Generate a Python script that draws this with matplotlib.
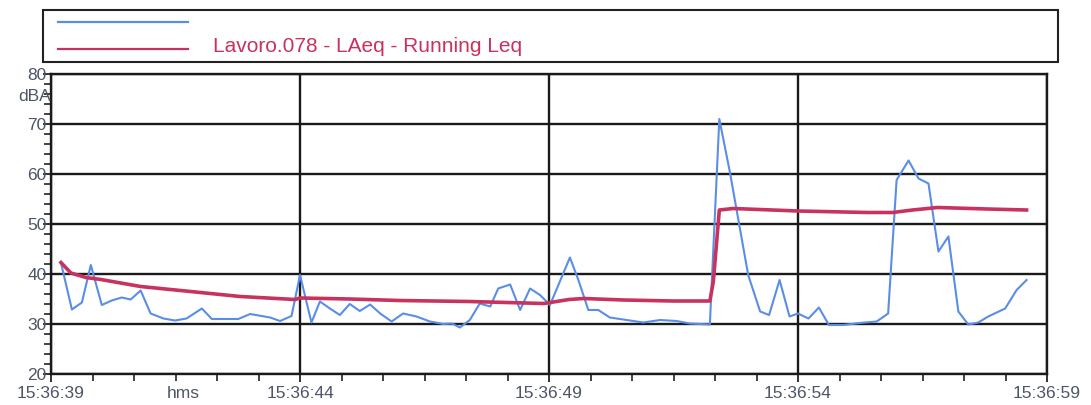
import matplotlib
matplotlib.use("Agg")
import matplotlib.pyplot as plt
from matplotlib.ticker import MultipleLocator, FixedLocator
from matplotlib.lines import Line2D
from matplotlib.patches import Rectangle

# seconds after 15:36:39
t_blue = [0.21, 0.42, 0.62, 0.80, 1.02, 1.22, 1.42, 1.60, 1.80, 2.00, 2.26, 2.49, 2.72,
          3.03, 3.23, 3.49, 3.76, 4.00, 4.40, 4.60, 4.83, 5.00, 5.23, 5.40, 5.60, 5.80,
          6.00, 6.20, 6.41, 6.61, 6.84, 7.07, 7.34, 7.61, 7.88, 8.05, 8.21, 8.41, 8.61,
          8.82, 8.98, 9.22, 9.42, 9.62, 9.82, 10.02, 10.42, 10.59, 10.79, 10.99, 11.22,
          11.56, 11.89, 12.23, 12.56, 12.83, 13.23, 13.42, 13.63, 14.00, 14.24, 14.42,
          14.63, 14.83, 15.00, 15.21, 15.42, 15.62, 15.91, 16.24, 16.58, 16.81, 16.98,
          17.22, 17.42, 17.62, 17.82, 18.02, 18.22, 18.42, 18.62, 18.82, 19.16, 19.39, 19.59]
db_blue = [41.8, 32.9, 34.3, 41.8, 33.8, 34.7, 35.3, 34.9, 36.7, 32.1, 31.1, 30.7, 31.1,
           33.1, 31.0, 31.0, 31.0, 32.0, 31.3, 30.6, 31.6, 39.8, 30.3, 34.5, 33.1, 31.8,
           34.0, 32.6, 33.9, 32.1, 30.5, 32.1, 31.5, 30.5, 30.0, 30.1, 29.3, 30.8, 34.1,
           33.5, 37.1, 37.9, 32.8, 37.1, 35.8, 33.8, 43.3, 38.8, 32.8, 32.8, 31.3,
           30.8, 30.3, 30.8, 30.6, 30.1, 29.9, 71.0, 60.5, 39.8, 32.5, 31.8,
           38.8, 31.5, 32.1, 31.1, 33.3, 29.8, 29.8, 30.2, 30.5, 32.1, 58.8,
           62.7, 59.1, 58.1, 44.5, 47.5, 32.5, 29.9, 30.3, 31.5, 33.1, 36.8, 38.8]

t_red = [0.20, 0.40, 0.70, 1.00, 1.80, 2.80, 3.80, 4.90, 5.00, 6.00, 7.00, 8.40,
         9.90, 10.40, 10.70, 11.50, 12.50, 13.23, 13.30, 13.42, 13.70, 15.00, 16.40,
         16.90, 17.30, 17.80, 18.80, 19.59]
db_red = [42.3, 40.2, 39.3, 38.9, 37.5, 36.5, 35.5, 34.9, 35.2, 35.0, 34.7, 34.5,
          34.1, 34.9, 35.1, 34.8, 34.6, 34.6, 38.5, 52.8, 53.1, 52.6, 52.3,
          52.3, 52.8, 53.3, 53.0, 52.8]

x_major = [0, 5, 10, 15, 20]
x_labels = ["15:36:39", "15:36:44", "15:36:49", "15:36:54", "15:36:59"]
y_major = [20, 30, 40, 50, 60, 70, 80]
legend_label = "Lavoro.078 - LAeq - Running Leq"

W, H = 1091, 405
fig = plt.figure(figsize=(W / 100, H / 100), dpi=100)
fig.patch.set_facecolor("white")
ax = fig.add_axes([51 / W, 1 - 374 / H, (1047 - 51) / W, 300 / H])

fam = ["Liberation Sans Narrow", "Liberation Sans", "DejaVu Sans"]
lab_col = "#4d5566"
blue = "#5a8ee6"
red = "#c8325e"

ax.plot(t_blue, db_blue, color=blue, lw=1.5, zorder=3)
ax.plot(t_red, db_red, color=red, lw=2.6, zorder=4)

ax.set_xlim(0, 20)
ax.set_ylim(20, 80)
ax.xaxis.set_major_locator(FixedLocator(x_major))
ax.xaxis.set_minor_locator(MultipleLocator(5 / 6))
ax.yaxis.set_major_locator(FixedLocator(y_major))
ax.yaxis.set_minor_locator(MultipleLocator(2))
ax.set_xticklabels(x_labels, family=fam, fontsize=12.5, color=lab_col)
ax.set_yticklabels([str(v) for v in y_major], family=fam, fontsize=12.5, color=lab_col)
ax.tick_params(axis="both", which="major", direction="out", length=6, width=1.3, color="#222")
ax.tick_params(axis="both", which="minor", direction="out", length=5, width=1.2, color="#222")
ax.tick_params(axis="y", which="major", pad=-3)
ax.tick_params(axis="x", which="major", pad=3)
ax.grid(True, which="major", color="#1a1a1a", lw=1.7, zorder=1)
for s in ax.spines.values():
    s.set_linewidth(1.7)
    s.set_color("#1a1a1a")

ax.text(2.65, -0.04, "hms", transform=ax.get_xaxis_transform(), ha="center", va="top",
        family=fam, fontsize=12.5, color=lab_col)
ax.text(0.0, 75.5, "dBA", transform=ax.get_yaxis_transform(), ha="right", va="center",
        family=fam, fontsize=12.5, color=lab_col)

# legend box above the plot
def fx(px):
    return px / W

def fy(py):
    return 1 - py / H

fig.add_artist(Rectangle((fx(43), fy(62)), fx(1058) - fx(43), fy(10) - fy(62),
                         transform=fig.transFigure, fill=False, ec="#222", lw=1.5))
fig.add_artist(Line2D([fx(58), fx(188)], [fy(22), fy(22)], transform=fig.transFigure,
                      color=blue, lw=1.6))
fig.add_artist(Line2D([fx(58), fx(188)], [fy(49), fy(49)], transform=fig.transFigure,
                      color=red, lw=1.6))
fig.text(fx(213), fy(47), legend_label, ha="left", va="center", family=fam,
         fontsize=15, color=red)

fig.savefig("out.png", dpi=100)
